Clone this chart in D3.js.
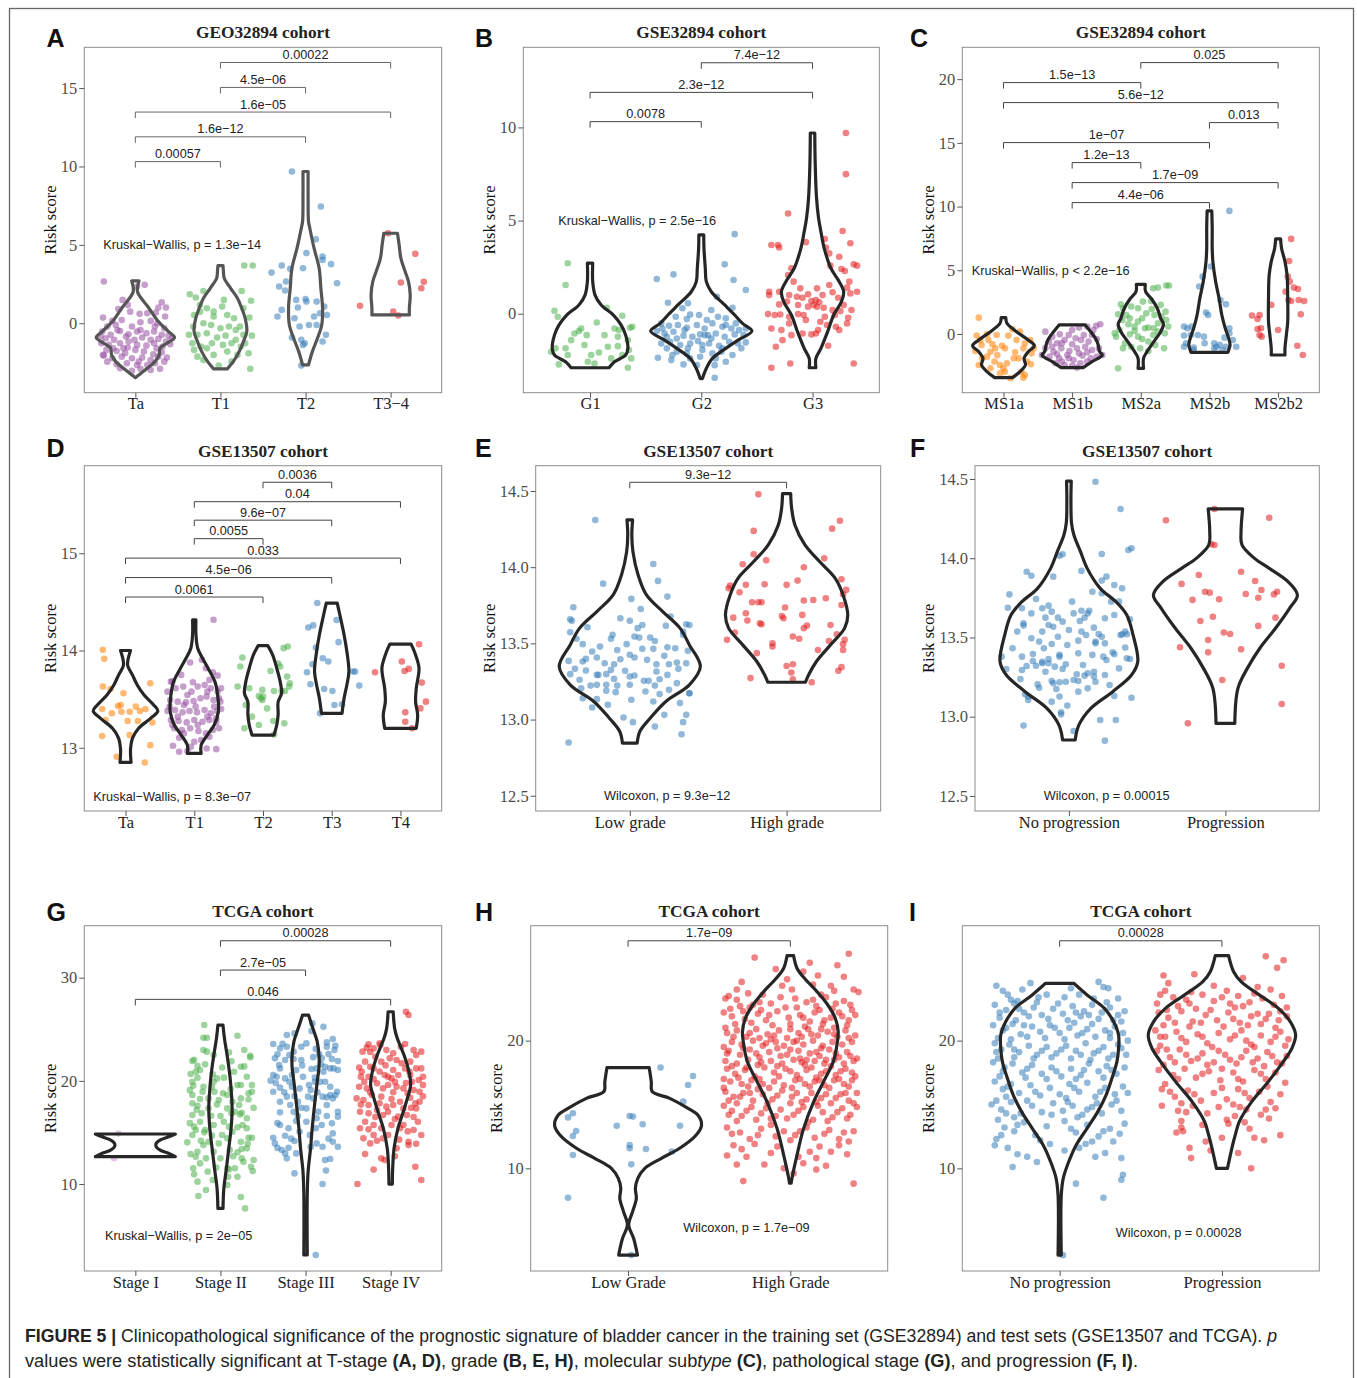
<!DOCTYPE html>
<html><head><meta charset="utf-8">
<script src="https://cdn.jsdelivr.net/npm/d3@7"></script>
<style>body{margin:0;background:#fff}svg{display:block}</style>
</head><body>
<script>
// Risk score by clinicopathological group, nine cohorts/panels.
// Points are [jitter offset in category units, risk score];
// violin profiles are [risk score, half width in category units].

// ---------- Panel A: GEO32894, T stage ----------
const catsA = ["Ta","T1","T2","T3−4"];
const ticksA = [0,5,10,15];
const ptsA_Ta = [[-0.37,2.66],[0.11,2.45],[0.02,2.34],[-0.15,1.49],[0.31,1.34],[0.36,1.0],[-0.09,1.17],[-0.2,0.91],[-0.06,0.74],[0.05,0.6],[0.14,0.64],[0.24,0.68],[0.27,1.0],[-0.38,0.36],[0.35,0.43],[-0.27,0.15],[-0.16,0.21],[0.06,0.06],[0.18,0.15],[0.26,0.0],[-0.33,-0.21],[-0.23,-0.11],[-0.04,-0.21],[0.06,-0.43],[0.23,-0.21],[0.34,-0.32],[-0.39,-0.53],[-0.29,-0.74],[-0.18,-0.49],[-0.08,-0.7],[0.02,-0.53],[0.13,-0.64],[0.22,-0.53],[0.31,-0.74],[0.39,-0.79],[-0.35,-0.96],[-0.25,-1.06],[-0.11,-0.85],[-0.01,-1.06],[0.08,-0.91],[0.18,-1.06],[0.27,-1.0],[0.36,-1.17],[-0.4,-1.28],[-0.31,-1.38],[-0.18,-1.28],[-0.09,-1.55],[0.02,-1.38],[0.13,-1.43],[0.22,-1.28],[0.32,-1.49],[0.41,-1.34],[-0.34,-1.7],[-0.22,-1.77],[-0.12,-1.91],[0.0,-1.7],[0.1,-1.81],[0.21,-1.98],[0.31,-1.85],[-0.37,-2.06],[-0.27,-2.23],[-0.16,-2.13],[-0.04,-2.23],[0.08,-2.19],[0.18,-2.34],[0.27,-2.13],[0.37,-2.19],[-0.33,-2.45],[-0.22,-2.62],[-0.1,-2.55],[0.02,-2.66],[0.14,-2.66],[0.23,-2.55],[-0.18,-2.87],[-0.04,-3.04],[0.06,-2.91],[0.18,-2.98],[0.29,-2.91],[-0.38,-2.02],[0.34,-2.45],[-0.08,-1.17],[-0.21,-0.43],[-0.41,-0.85],[0.43,-0.96],[0.25,-1.6],[-0.26,-1.6],[0.04,-2.45],[-0.14,-1.6]];
const ptsA_T1 = [[-0.36,1.85],[-0.29,1.64],[-0.2,2.06],[-0.31,0.53],[-0.24,0.74],[-0.16,0.96],[-0.08,0.74],[0.02,1.06],[0.08,0.53],[0.16,0.32],[0.25,2.06],[0.28,3.68],[0.38,3.68],[0.36,1.43],[0.34,0.36],[-0.32,-0.21],[-0.2,0.0],[-0.11,-0.11],[0.0,-0.32],[0.1,-0.21],[0.23,-0.21],[-0.27,-0.74],[-0.16,-0.64],[-0.04,-0.91],[0.06,-0.79],[0.18,-1.06],[0.27,-0.74],[0.37,-0.79],[-0.33,-1.28],[-0.23,-1.49],[-0.1,-1.28],[0.03,-1.38],[0.13,-1.28],[0.24,-1.49],[-0.31,-1.7],[-0.2,-2.34],[-0.08,-2.02],[0.08,-1.81],[0.2,-2.02],[0.33,-1.91],[-0.02,-2.7],[0.35,-2.91],[-0.16,-1.6],[0.18,-0.43],[-0.08,0.43],[-0.24,1.17],[0.04,1.49],[0.27,0.96],[-0.27,-2.13],[0.13,-2.45],[-0.37,-0.74],[0.29,-1.28]];
const ptsA_T2 = [[-0.16,9.68],[0.18,7.45],[0.12,5.36],[0.01,4.47],[0.2,4.26],[0.3,3.77],[0.2,4.04],[-0.4,3.23],[-0.28,3.68],[-0.18,3.47],[-0.03,3.51],[-0.23,2.66],[-0.31,2.34],[-0.24,2.09],[0.37,2.55],[-0.11,1.49],[0.0,1.55],[0.01,1.38],[0.13,1.38],[-0.28,0.85],[-0.33,0.43],[-0.09,1.0],[0.22,1.06],[0.25,0.53],[0.17,0.64],[-0.13,0.32],[-0.07,-0.21],[0.04,-0.11],[-0.16,-0.91],[-0.05,-1.06],[-0.01,-1.28],[0.24,-0.74],[0.2,-1.17],[-0.05,-2.7],[0.13,-0.11],[0.1,0.43],[-0.03,-1.38]];
const ptsA_T34 = [[-0.36,1.11],[-0.03,5.74],[0.29,4.43],[0.12,2.6],[0.39,2.64],[0.36,2.23],[0.03,0.74],[0.09,0.49]];
const vioA_Ta = [[2.7,0.043],[2.02,0.025],[1.38,0.1],[0.96,0.16],[0.11,0.27],[-0.53,0.39],[-0.91,0.46],[-1.28,0.37],[-1.6,0.29],[-2.02,0.28],[-2.45,0.23],[-2.87,0.14],[-3.3,0.04],[-3.47,0.0]];
const vioA_T1 = [[3.68,0.03],[3.3,0.035],[2.87,0.045],[2.23,0.12],[1.6,0.2],[0.96,0.25],[0.32,0.29],[-0.53,0.31],[-1.17,0.27],[-1.81,0.22],[-2.45,0.15],[-2.91,0.08]];
const vioA_T2 = [[9.68,0.03],[8.0,0.03],[6.49,0.035],[6.06,0.05],[4.79,0.1],[3.51,0.16],[2.23,0.18],[0.96,0.2],[-0.11,0.19],[-0.96,0.14],[-1.81,0.08],[-2.66,0.035]];
const vioA_T34 = [[5.74,0.08],[5.0,0.1],[4.15,0.12],[3.3,0.17],[2.66,0.21],[1.81,0.23],[0.96,0.22],[0.53,0.22]];
const bracketsA = [["Ta","T1",10.31,"0.00057"],["Ta","T2",11.89,"1.6e−12"],["Ta","T3−4",13.47,"1.6e−05"],["T1","T2",15.04,"4.5e−06"],["T1","T3−4",16.63,"0.00022"]];
const testA = "Kruskal−Wallis, p = 1.3e−14";

// ---------- Panel B: GSE32894, grade ----------
const catsB = ["G1","G2","G3"];
const ticksB = [0,5,10];
const ptsB_G1 = [[-0.2,2.71],[-0.22,1.54],[-0.32,0.16],[0.15,0.32],[-0.29,-0.16],[0.29,-0.11],[0.06,-0.47],[-0.08,-0.79],[-0.1,-0.93],[-0.03,-1.15],[0.22,-0.79],[0.26,-0.88],[0.36,-0.75],[0.38,-0.7],[-0.14,-1.06],[0.25,-1.24],[0.34,-1.42],[-0.22,-1.86],[-0.35,-2.04],[-0.2,-2.22],[0.01,-2.22],[0.08,-2.08],[0.16,-1.77],[0.25,-1.74],[0.37,-2.4],[-0.28,-2.72],[-0.02,-2.58],[0.04,-2.67],[0.34,-2.9],[-0.31,-1.86],[0.35,-1.95],[-0.05,-1.68],[0.13,-1.15],[0.29,-2.22],[-0.17,-1.42],[0.19,-2.4]];
const ptsB_G2 = [[0.3,4.27],[0.21,2.65],[-0.25,2.11],[-0.4,1.86],[0.29,1.81],[0.4,1.27],[0.14,0.91],[-0.3,0.59],[-0.12,0.56],[0.28,0.32],[-0.17,0.29],[0.09,0.2],[-0.02,-0.07],[-0.23,-0.16],[-0.1,-0.04],[0.15,-0.16],[0.22,-0.25],[-0.36,-0.52],[-0.29,-0.65],[-0.21,-0.61],[-0.13,-0.75],[0.03,-0.79],[0.1,-0.52],[0.19,-0.7],[0.27,-0.79],[0.34,-0.88],[0.4,-0.79],[-0.4,-0.93],[-0.33,-1.06],[-0.25,-0.97],[-0.16,-1.18],[-0.08,-1.24],[-0.01,-1.11],[0.06,-1.15],[0.13,-1.06],[0.21,-1.24],[0.3,-1.11],[0.38,-1.15],[-0.36,-1.6],[-0.28,-1.51],[-0.19,-1.68],[-0.1,-1.6],[-0.03,-1.47],[0.07,-1.6],[0.16,-1.72],[0.25,-1.51],[0.33,-1.6],[0.4,-1.54],[-0.31,-1.86],[-0.22,-2.04],[-0.12,-1.86],[0.01,-1.95],[0.1,-2.13],[0.18,-2.04],[0.28,-2.22],[-0.39,-2.37],[-0.27,-2.49],[-0.16,-2.72],[-0.01,-2.31],[0.12,-2.76],[0.22,-2.58],[0.12,-3.44],[-0.1,-2.4],[0.03,-1.15],[-0.22,-1.33],[-0.04,-0.61],[0.31,-0.52],[0.09,-1.33],[-0.13,-2.13],[0.19,-1.86],[-0.26,-2.22],[0.01,-1.68],[-0.31,-1.24],[-0.15,-0.88],[0.36,-1.86],[0.22,-0.61],[0.05,-0.34],[-0.13,-0.29],[-0.35,-0.79],[0.13,-2.4],[-0.04,-2.76]];
const ptsB_G3 = [[0.3,9.7],[0.3,7.49],[-0.22,5.38],[0.27,4.44],[0.34,3.78],[-0.37,3.69],[-0.31,3.69],[-0.3,3.55],[-0.06,3.84],[0.12,3.55],[0.15,3.24],[0.11,4.01],[0.37,2.65],[0.4,2.58],[0.26,2.4],[0.29,2.29],[-0.19,2.44],[0.16,2.58],[-0.17,1.72],[-0.11,1.36],[0.04,1.36],[0.15,1.54],[0.31,1.4],[0.4,1.18],[0.34,1.09],[-0.39,1.18],[-0.3,1.18],[-0.21,1.0],[-0.14,0.91],[-0.09,0.86],[-0.04,1.04],[0.09,1.0],[0.18,1.15],[0.23,0.86],[-0.39,1.0],[-0.3,0.5],[-0.23,0.65],[-0.01,0.68],[0.03,0.73],[0.06,0.61],[0.01,0.47],[-0.04,0.38],[0.04,0.38],[0.1,0.32],[0.18,0.2],[0.25,0.14],[0.28,0.47],[0.35,0.2],[-0.4,-0.02],[-0.34,-0.07],[-0.29,-0.04],[-0.21,-0.16],[-0.13,-0.02],[-0.08,-0.07],[0.11,-0.16],[0.2,-0.07],[0.32,-0.22],[-0.37,-0.79],[-0.28,-0.88],[-0.21,-0.52],[-0.09,-1.06],[-0.01,-1.11],[0.05,-0.88],[0.13,-0.61],[0.21,-0.7],[0.31,-0.52],[0.24,-0.88],[-0.27,-1.42],[-0.33,-1.77],[-0.19,-1.15],[0.03,-1.06],[0.14,-1.72],[-0.2,-2.67],[-0.37,-2.9],[0.37,-2.67],[-0.06,-0.34],[0.07,-0.43],[-0.13,0.47],[0.33,1.72],[0.24,3.06],[-0.22,2.08]];
const vioB_G1 = [[2.71,0.024],[1.72,0.024],[1.0,0.045],[0.47,0.1],[-0.07,0.21],[-0.61,0.28],[-1.15,0.32],[-1.86,0.34],[-2.22,0.32],[-2.58,0.22],[-2.9,0.17]];
const vioB_G2 = [[4.23,0.022],[3.51,0.024],[2.44,0.036],[1.72,0.045],[1.18,0.09],[0.47,0.21],[-0.07,0.3],[-0.52,0.37],[-0.93,0.455],[-1.42,0.33],[-1.86,0.22],[-2.4,0.1],[-2.94,0.045],[-3.48,0.01]];
const vioB_G3 = [[9.7,0.02],[8.0,0.024],[6.2,0.036],[5.13,0.054],[4.41,0.075],[3.51,0.105],[2.44,0.165],[1.72,0.24],[1.18,0.28],[0.65,0.26],[-0.07,0.19],[-0.97,0.135],[-1.86,0.075],[-2.4,0.03],[-2.9,0.03]];
const bracketsB = [["G1","G2",10.31,"0.0078"],["G1","G3",11.88,"2.3e−12"],["G2","G3",13.47,"7.4e−12"]];
const testB = "Kruskal−Wallis, p = 2.5e−16";

// ---------- Panel C: GSE32894, molecular subtype ----------
const catsC = ["MS1a","MS1b","MS2a","MS2b","MS2b2"];
const ticksC = [0,5,10,15,20];
const ptsC_1a = [[-0.36,1.28],[0.13,0.39],[-0.39,-0.13],[-0.24,-0.03],[0.07,-0.13],[0.19,-0.47],[0.31,-0.73],[0.39,-0.47],[-0.32,-0.86],[-0.16,-0.81],[-0.02,-0.92],[-0.19,-1.39],[-0.09,-1.65],[0.02,-1.13],[0.29,-1.13],[0.44,-1.13],[-0.31,-1.91],[-0.13,-2.17],[-0.05,-2.43],[0.0,-2.7],[0.05,-2.3],[0.22,-1.91],[0.34,-2.17],[0.4,-2.38],[-0.36,-2.43],[-0.19,-2.7],[0.26,-2.96],[0.31,-3.22],[0.29,-3.43],[0.02,-2.96],[0.15,-1.91],[-0.22,-0.47],[-0.34,-0.47],[0.24,0.18],[-0.1,-0.08],[0.17,-1.44],[-0.24,-1.78],[0.1,-3.48],[-0.05,-3.09],[-0.12,-1.13],[-0.41,-1.34],[0.41,-1.52]];
const ptsC_1b = [[-0.39,0.18],[-0.29,-0.21],[-0.18,-0.03],[-0.05,-0.08],[0.1,0.5],[0.22,0.58],[0.31,0.31],[0.35,0.65],[0.41,0.76],[-0.34,-0.6],[-0.22,-0.73],[-0.11,-0.47],[0.0,-0.81],[0.13,-0.47],[0.24,-0.6],[0.36,-0.39],[-0.39,-1.13],[-0.27,-1.39],[-0.16,-1.13],[-0.04,-1.34],[0.07,-1.13],[0.19,-1.0],[0.29,-1.26],[0.39,-1.13],[-0.33,-1.78],[-0.19,-1.91],[-0.07,-1.65],[0.02,-2.04],[0.15,-1.7],[0.27,-1.91],[0.36,-1.78],[-0.24,-2.3],[-0.11,-2.43],[0.0,-2.49],[0.12,-2.3],[0.22,-2.17],[0.07,-2.64],[-0.15,-2.17],[-0.44,-1.65],[-0.29,-1.0],[0.1,-1.52],[0.17,-0.08],[0.0,0.31],[0.29,-0.08],[-0.05,-1.91],[-0.22,-1.6],[0.22,-1.44],[0.44,-1.65],[-0.15,-0.73],[0.05,-0.34]];
const ptsC_2a = [[-0.33,-2.7],[-0.36,-0.21],[-0.38,0.05],[-0.29,2.33],[-0.26,2.02],[-0.14,2.15],[-0.21,1.49],[-0.33,1.54],[-0.27,1.1],[-0.18,0.76],[-0.09,0.58],[-0.04,0.97],[0.02,1.23],[0.08,1.62],[0.16,1.96],[0.03,2.54],[0.18,3.59],[0.25,3.64],[0.37,3.8],[0.41,3.8],[0.29,2.28],[0.36,1.75],[0.3,1.36],[0.37,1.1],[0.19,0.45],[0.11,0.5],[0.25,0.18],[0.35,0.05],[0.4,0.58],[-0.04,-0.21],[0.02,-0.39],[0.11,-0.6],[0.21,-0.86],[0.34,-1.13],[-0.23,-0.73],[-0.14,-1.0],[-0.01,-1.13],[0.11,-1.34],[-0.31,0.31],[-0.09,0.24],[0.06,0.45],[-0.16,-0.03],[0.18,-0.08],[-0.26,-1.13],[0.15,2.59],[-0.04,2.02],[0.25,0.84],[-0.16,1.23],[0.2,1.49]];
const ptsC_2b = [[0.29,9.66],[0.02,5.29],[-0.1,4.5],[-0.15,3.72],[0.16,2.67],[0.24,2.33],[-0.02,1.49],[-0.05,1.68],[-0.37,0.58],[-0.26,0.58],[-0.37,-0.13],[-0.27,-0.08],[-0.08,-0.21],[0.29,0.45],[0.22,-0.29],[-0.34,-0.73],[-0.37,-1.0],[-0.23,-1.07],[0.07,-0.73],[0.1,-1.0],[0.15,-0.86],[0.24,-1.0],[0.39,-1.0],[0.34,-0.47],[-0.23,-1.26],[0.19,-1.26],[0.07,-1.13],[-0.07,-0.73],[-0.17,-0.08],[-0.32,0.45],[0.29,0.05]];
const ptsC_2b2 = [[0.19,7.46],[0.16,5.73],[0.14,4.5],[0.17,4.11],[0.11,3.32],[0.23,3.64],[0.29,3.53],[0.15,2.67],[0.19,2.59],[0.3,2.67],[0.38,2.59],[0.33,1.54],[-0.38,1.44],[-0.27,1.49],[-0.3,1.18],[-0.1,2.28],[-0.3,0.39],[-0.27,-0.08],[-0.24,-0.21],[-0.25,0.45],[0.28,-0.92],[0.36,-1.65],[0.0,0.31]];
const vioC_1a = [[1.28,0.034],[0.84,0.05],[0.18,0.19],[-0.47,0.36],[-0.92,0.45],[-1.39,0.36],[-1.91,0.3],[-2.43,0.32],[-2.96,0.24],[-3.43,0.13]];
const vioC_1b = [[0.71,0.19],[0.18,0.27],[-0.34,0.34],[-0.86,0.38],[-1.39,0.4],[-1.65,0.44],[-2.17,0.29],[-2.64,0.16]];
const vioC_2a = [[3.9,0.065],[3.32,0.07],[2.8,0.15],[2.02,0.24],[1.23,0.29],[0.76,0.33],[0.18,0.29],[-0.6,0.19],[-1.39,0.09],[-1.91,0.04],[-2.7,0.04]];
const vioC_2b = [[9.66,0.034],[8.3,0.04],[6.73,0.04],[5.68,0.05],[4.11,0.09],[2.8,0.14],[1.49,0.18],[0.45,0.23],[-0.34,0.28],[-0.86,0.3],[-1.26,0.28],[-1.44,0.27]];
const vioC_2b2 = [[7.46,0.036],[6.73,0.05],[5.68,0.1],[4.63,0.13],[2.8,0.14],[0.97,0.14],[-0.08,0.12],[-1.13,0.1],[-1.65,0.1]];
const bracketsC = [["MS1b","MS2b",10.31,"4.4e−06"],["MS1b","MS2b2",11.88,"1.7e−09"],["MS1b","MS2a",13.45,"1.2e−13"],["MS1a","MS2b",15.02,"1e−07"],["MS2b","MS2b2",16.59,"0.013"],["MS1a","MS2b2",18.16,"5.6e−12"],["MS1a","MS2a",19.73,"1.5e−13"],["MS2a","MS2b2",21.3,"0.025"]];
const testC = "Kruskal−Wallis, p < 2.2e−16";

// ---------- Panel D: GSE13507, T stage ----------
const catsD = ["Ta","T1","T2","T3","T4"];
const ticksD = [13,14,15];
const ptsD_Ta = [[-0.33,14.007],[-0.31,13.914],[-0.33,13.629],[-0.22,13.605],[-0.03,13.56],[0.36,13.663],[-0.34,13.399],[-0.2,13.354],[-0.11,13.43],[-0.06,13.371],[0.03,13.275],[0.06,13.371],[0.15,13.423],[0.21,13.378],[0.29,13.399],[0.39,13.261],[-0.29,13.285],[-0.34,13.12],[0.06,13.131],[0.36,13.027],[-0.13,12.907],[0.28,12.849],[-0.07,13.44],[0.18,13.275]];
const ptsD_T1 = [[0.28,14.316],[0.11,13.904],[-0.06,13.876],[-0.32,13.68],[-0.19,13.749],[0.27,13.777],[0.22,13.698],[0.34,13.742],[-0.39,13.577],[-0.27,13.612],[-0.16,13.629],[-0.04,13.577],[0.05,13.629],[0.15,13.646],[0.24,13.612],[0.34,13.577],[0.39,13.612],[-0.35,13.491],[-0.24,13.474],[-0.12,13.467],[-0.01,13.481],[0.09,13.509],[0.18,13.526],[0.28,13.491],[0.36,13.509],[-0.39,13.378],[-0.28,13.388],[-0.17,13.364],[-0.07,13.378],[0.04,13.364],[0.15,13.388],[0.24,13.354],[0.33,13.378],[0.39,13.399],[-0.34,13.285],[-0.23,13.275],[-0.11,13.261],[0.0,13.285],[0.12,13.268],[0.22,13.285],[0.32,13.261],[0.36,13.2],[-0.29,13.2],[-0.18,13.182],[-0.06,13.2],[0.06,13.172],[0.17,13.148],[0.27,13.182],[-0.31,13.021],[-0.1,12.966],[-0.05,13.01],[0.18,12.993],[0.32,12.986],[-0.22,13.103],[0.1,13.079],[0.22,13.113],[-0.36,13.423],[-0.02,13.674],[0.17,13.818],[-0.15,13.44],[0.29,13.423],[0.02,13.423],[-0.24,13.32],[0.19,13.32],[-0.1,13.543],[0.19,13.577],[-0.32,13.234],[0.32,13.302],[0.05,13.234],[-0.15,13.148],[0.0,13.062],[0.38,13.474],[-0.34,13.68],[-0.22,12.959]];
const ptsD_T2 = [[-0.3,13.928],[-0.33,13.835],[-0.2,13.612],[-0.01,13.595],[0.11,13.79],[0.22,13.866],[0.25,13.835],[0.36,14.041],[0.3,14.024],[0.35,13.732],[0.39,13.663],[0.27,13.584],[0.32,13.584],[0.16,13.584],[-0.03,13.509],[-0.01,13.491],[0.0,13.526],[-0.06,13.533],[-0.37,13.629],[-0.16,13.32],[0.06,13.405],[0.15,13.275],[0.31,13.251],[-0.27,13.2],[-0.06,13.234],[0.16,13.137],[0.38,13.629],[-0.25,13.44]];
const ptsD_T3 = [[-0.21,14.488],[-0.34,14.237],[-0.27,14.258],[0.07,14.313],[0.1,14.086],[-0.23,14.031],[-0.13,13.921],[-0.28,13.859],[-0.05,13.887],[-0.36,13.777],[0.31,13.784],[0.34,13.784],[-0.31,13.653],[-0.11,13.605],[0.01,13.584],[0.4,13.639],[0.04,13.44],[-0.17,13.354],[0.15,13.447]];
const ptsD_T4 = [[0.27,14.065],[-0.37,13.777],[0.02,13.887],[0.06,13.79],[0.12,13.811],[0.31,13.67],[0.29,13.405],[0.07,13.364],[0.07,13.268],[0.37,13.474],[0.17,13.2]];
const vioD_Ta = [[14.0,0.073],[13.85,0.03],[13.75,0.1],[13.646,0.17],[13.543,0.27],[13.44,0.41],[13.378,0.47],[13.3,0.36],[13.2,0.19],[13.096,0.1],[12.99,0.073],[12.849,0.08]];
const vioD_T1 = [[14.316,0.024],[14.16,0.025],[14.024,0.05],[13.92,0.12],[13.818,0.2],[13.68,0.3],[13.543,0.34],[13.371,0.35],[13.234,0.29],[13.131,0.19],[13.027,0.1],[12.942,0.1]];
const vioD_T2 = [[14.05,0.07],[13.955,0.14],[13.818,0.2],[13.68,0.25],[13.56,0.27],[13.47,0.22],[13.34,0.22],[13.234,0.2],[13.131,0.16]];
const vioD_T3 = [[14.488,0.08],[14.36,0.12],[14.16,0.18],[13.99,0.22],[13.784,0.25],[13.646,0.22],[13.509,0.18],[13.354,0.15]];
const vioD_T4 = [[14.065,0.155],[13.955,0.22],[13.818,0.27],[13.612,0.23],[13.474,0.22],[13.337,0.25],[13.2,0.23]];
const bracketsD = [["Ta","T2",14.55,"0.0061"],["Ta","T3",14.75,"4.5e−06"],["Ta","T4",14.95,"0.033"],["T1","T2",15.15,"0.0055"],["T1","T3",15.34,"9.6e−07"],["T1","T4",15.53,"0.04"],["T2","T3",15.73,"0.0036"]];
const testD = "Kruskal−Wallis, p = 8.3e−07";

// ---------- Panel E: GSE13507, grade ----------
const catsE = ["Low grade","High grade"];
const ticksE = [12.5,13.0,13.5,14.0,14.5];
const ptsE_Low = [[-0.22,14.31],[0.15,14.021],[-0.17,13.892],[0.18,13.91],[0.24,13.807],[0.01,13.792],[-0.36,13.737],[0.07,13.726],[-0.38,13.658],[-0.37,13.648],[-0.27,13.606],[0.0,13.648],[0.08,13.621],[0.05,13.6],[0.23,13.615],[0.36,13.626],[0.38,13.621],[-0.38,13.573],[-0.34,13.53],[-0.3,13.495],[-0.19,13.479],[-0.11,13.556],[-0.12,13.53],[0.03,13.545],[0.06,13.538],[0.13,13.538],[0.16,13.516],[0.24,13.475],[0.34,13.578],[0.34,13.556],[-0.02,13.495],[0.08,13.464],[0.15,13.464],[0.22,13.418],[0.37,13.451],[-0.39,13.385],[-0.3,13.381],[-0.28,13.398],[-0.21,13.407],[-0.16,13.37],[-0.1,13.363],[-0.06,13.396],[0.0,13.425],[0.03,13.407],[0.11,13.392],[0.17,13.363],[0.25,13.363],[0.3,13.374],[0.36,13.37],[-0.35,13.333],[-0.28,13.322],[-0.38,13.298],[-0.21,13.293],[-0.15,13.298],[-0.1,13.267],[-0.03,13.32],[0.0,13.283],[0.03,13.289],[0.09,13.254],[0.12,13.254],[0.19,13.265],[0.31,13.333],[0.3,13.239],[-0.25,13.223],[-0.21,13.228],[-0.15,13.228],[-0.08,13.223],[0.0,13.228],[0.16,13.223],[0.25,13.195],[0.38,13.173],[-0.3,13.14],[-0.21,13.134],[-0.15,13.189],[-0.09,13.18],[0.01,13.13],[0.15,13.119],[0.19,13.167],[0.32,13.108],[0.38,13.173],[-0.24,13.079],[-0.04,13.014],[0.02,12.983],[0.16,12.954],[0.34,12.983],[0.36,13.031],[0.33,12.904],[-0.39,12.85],[-0.2,13.293],[-0.32,13.261],[-0.12,13.326],[0.17,13.315],[0.24,13.293],[0.29,13.468],[-0.08,13.457],[-0.24,13.446],[0.26,13.676],[-0.06,13.665],[-0.31,13.206],[0.1,13.184],[-0.14,13.097],[0.22,13.031]];
const ptsE_High = [[-0.18,14.478],[0.34,14.305],[-0.21,14.238],[0.29,14.253],[-0.21,14.085],[-0.13,14.045],[0.24,14.058],[-0.28,14.019],[0.11,14.0],[0.35,13.921],[0.38,13.851],[-0.37,13.862],[-0.36,13.879],[-0.3,13.836],[-0.26,13.884],[-0.14,13.888],[0.0,13.884],[0.07,13.912],[0.36,13.822],[0.25,13.796],[0.17,13.785],[0.11,13.781],[-0.22,13.77],[-0.18,13.77],[-0.16,13.77],[-0.01,13.735],[0.35,13.752],[-0.26,13.698],[-0.34,13.669],[-0.03,13.68],[-0.02,13.665],[0.1,13.687],[-0.25,13.65],[-0.17,13.632],[-0.16,13.626],[0.28,13.621],[0.13,13.617],[0.11,13.6],[-0.33,13.571],[-0.38,13.523],[0.04,13.545],[0.08,13.53],[0.32,13.56],[0.27,13.516],[0.2,13.457],[-0.09,13.501],[-0.09,13.479],[-0.19,13.436],[0.36,13.457],[0.0,13.352],[0.04,13.363],[0.03,13.309],[0.35,13.344],[0.33,13.32],[-0.23,13.272],[0.04,13.265],[0.16,13.245],[0.36,13.495],[0.37,13.523]];
const vioE_Low = [[14.31,0.018],[14.211,0.013],[14.102,0.02],[13.949,0.053],[13.818,0.106],[13.709,0.21],[13.6,0.32],[13.49,0.38],[13.348,0.45],[13.228,0.38],[13.119,0.23],[13.009,0.13],[12.922,0.064],[12.845,0.047]];
const vioE_High = [[14.483,0.026],[14.386,0.032],[14.277,0.053],[14.146,0.117],[14.037,0.21],[13.927,0.31],[13.818,0.36],[13.687,0.39],[13.6,0.37],[13.49,0.28],[13.381,0.19],[13.293,0.14],[13.245,0.12]];
const bracketsE = [["Low grade","High grade",14.557,"9.3e−12"]];
const testE = "Wilcoxon, p = 9.3e−12";

// ---------- Panel F: GSE13507, progression ----------
const catsF = ["No progression","Progression"];
const ticksF = [12.5,13.0,13.5,14.0,14.5];
const ptsF_No = [[0.17,14.483],[0.33,14.311],[0.38,14.052],[0.4,14.063],[-0.27,13.915],[-0.24,13.89],[-0.06,14.016],[-0.04,14.025],[-0.1,13.884],[0.21,14.027],[0.08,13.92],[0.24,13.884],[0.29,13.831],[0.34,13.81],[0.21,13.859],[0.21,13.779],[-0.38,13.772],[-0.39,13.688],[0.27,13.726],[-0.21,13.743],[-0.17,13.684],[-0.13,13.701],[-0.11,13.663],[-0.24,13.652],[-0.33,13.537],[-0.29,13.589],[-0.29,13.575],[-0.15,13.625],[-0.13,13.579],[-0.07,13.625],[0.03,13.652],[0.08,13.669],[0.12,13.652],[0.07,13.604],[0.1,13.625],[0.13,13.669],[0.23,13.621],[0.29,13.642],[0.34,13.52],[0.39,13.615],[0.36,13.537],[-0.17,13.537],[-0.11,13.459],[-0.07,13.505],[0.08,13.537],[0.06,13.48],[0.11,13.516],[0.16,13.562],[0.19,13.522],[0.17,13.474],[0.21,13.505],[0.23,13.463],[0.33,13.516],[0.37,13.52],[-0.43,13.379],[-0.3,13.379],[-0.23,13.396],[-0.23,13.352],[-0.17,13.347],[-0.13,13.364],[-0.13,13.337],[-0.06,13.39],[-0.06,13.379],[-0.01,13.453],[0.06,13.4],[0.17,13.463],[0.22,13.379],[0.24,13.358],[0.28,13.406],[0.29,13.394],[0.36,13.436],[0.37,13.369],[0.39,13.364],[-0.4,13.301],[-0.3,13.295],[-0.27,13.32],[-0.21,13.322],[-0.17,13.337],[-0.15,13.284],[-0.09,13.316],[-0.04,13.301],[-0.02,13.331],[0.05,13.268],[0.1,13.259],[0.12,13.274],[0.16,13.284],[0.16,13.253],[-0.11,13.225],[-0.1,13.211],[-0.08,13.175],[-0.06,13.217],[-0.02,13.221],[0.03,13.232],[0.06,13.225],[0.12,13.179],[0.17,13.221],[-0.31,13.238],[-0.28,13.141],[-0.26,13.127],[-0.26,13.106],[-0.19,13.183],[-0.06,13.127],[-0.11,13.095],[0.29,13.131],[0.4,13.12],[-0.05,13.028],[-0.05,13.015],[-0.29,12.944],[0.2,12.979],[0.3,12.979],[0.23,12.849],[0.03,12.91],[-0.01,13.07],[-0.2,13.204],[-0.16,13.432],[0.32,13.726],[0.02,13.726],[-0.3,13.684],[-0.04,13.6],[0.15,13.39],[0.32,13.305],[-0.36,13.432],[0.23,13.263],[0.06,13.158],[-0.19,13.474],[-0.1,13.568],[0.09,13.326],[0.26,13.2],[-0.24,13.495],[0.15,13.789],[0.0,13.547]];
const ptsF_Prog = [[-0.38,14.239],[-0.07,14.311],[0.28,14.256],[-0.09,14.088],[-0.17,13.894],[0.1,13.915],[-0.28,13.838],[0.19,13.856],[0.23,13.8],[-0.21,13.737],[-0.13,13.789],[-0.1,13.783],[-0.04,13.741],[0.13,13.774],[0.21,13.751],[0.31,13.772],[0.33,13.789],[-0.08,13.631],[-0.16,13.604],[0.32,13.625],[0.21,13.573],[-0.01,13.531],[0.03,13.522],[-0.11,13.484],[-0.29,13.438],[-0.11,13.406],[0.1,13.425],[0.36,13.322],[-0.02,13.232],[0.36,13.08],[-0.24,12.958],[-0.07,14.084]];
const vioF_No = [[14.487,0.015],[14.357,0.013],[14.22,0.017],[14.147,0.032],[14.042,0.074],[13.936,0.117],[13.81,0.2],[13.726,0.3],[13.642,0.37],[13.516,0.41],[13.347,0.44],[13.263,0.4],[13.158,0.28],[13.053,0.14],[12.948,0.064],[12.853,0.04]];
const vioF_Prog = [[14.311,0.11],[14.168,0.1],[14.084,0.106],[13.999,0.186],[13.936,0.28],[13.852,0.4],[13.768,0.46],[13.684,0.41],[13.558,0.32],[13.432,0.22],[13.305,0.14],[13.179,0.08],[12.958,0.06]];
const bracketsF = [];
const testF = "Wilcoxon, p = 0.00015";

// ---------- Panel G: TCGA, pathological stage ----------
const catsG = ["Stage I","Stage II","Stage III","Stage IV"];
const ticksG = [10,20,30];
const ptsG_I = [[-0.2,14.9],[-0.25,12.5]];
const ptsG_II = [[-0.19,25.41],[0.2,24.38],[-0.2,24.18],[-0.16,24.18],[-0.2,22.99],[-0.16,22.83],[0.1,22.76],[0.28,22.99],[0.35,22.28],[0.35,22.44],[-0.33,21.92],[-0.31,22.05],[-0.27,21.47],[-0.24,21.05],[-0.35,20.66],[-0.27,20.31],[-0.09,20.63],[0.04,20.31],[0.2,19.6],[0.24,19.6],[0.37,18.95],[0.33,18.79],[-0.32,19.53],[-0.2,19.43],[-0.07,18.95],[0.03,18.79],[-0.02,18.14],[-0.33,18.63],[-0.24,18.24],[-0.14,18.3],[-0.33,17.82],[-0.04,17.72],[0.08,17.33],[0.13,16.85],[0.17,17.01],[0.23,16.75],[0.39,17.4],[-0.27,17.59],[-0.22,16.85],[-0.11,16.62],[0.04,16.04],[0.1,15.56],[0.26,15.72],[0.33,14.49],[0.37,14.49],[0.31,15.4],[-0.39,14.04],[-0.31,15.56],[-0.29,15.23],[-0.18,15.23],[-0.19,15.01],[-0.14,14.1],[-0.02,13.94],[0.08,14.43],[0.11,13.3],[0.2,13.07],[0.25,13.39],[-0.27,13.13],[-0.17,12.49],[-0.29,12.65],[0.25,12.49],[0.27,12.16],[0.36,11.68],[0.38,11.26],[0.08,11.52],[0.1,11.42],[0.17,11.52],[-0.32,11.52],[-0.31,10.94],[-0.15,11.2],[-0.09,10.39],[0.09,10.71],[0.2,10.71],[-0.17,9.42],[-0.26,8.84],[0.24,8.74],[0.29,7.64],[-0.08,19.92],[-0.33,16.69],[0.24,18.3],[0.16,20.89],[0.31,20.4],[-0.08,22.5],[-0.21,18.95],[0.22,17.66],[-0.08,15.72],[0.14,15.07],[-0.33,14.75],[-0.2,13.78],[0.31,13.46],[0.0,12.49],[-0.24,12.0],[-0.04,20.24],[0.24,21.37],[-0.33,19.92],[0.37,19.6],[0.08,18.63],[-0.14,17.33],[0.14,17.98],[0.31,16.37],[-0.24,16.04],[0.02,14.75],[0.24,14.1],[-0.08,13.13],[0.39,12.33],[-0.27,10.23],[0.08,9.9],[-0.29,20.9],[-0.18,21.6],[0.02,21.3],[0.13,21.9],[0.28,21.4],[-0.36,19.1],[-0.1,19.4],[0.12,19.2],[0.33,18.2],[-0.28,17.2],[0.0,16.6],[0.25,16.9],[-0.36,15.9],[0.2,15.5],[-0.1,14.7],[0.32,13.9],[-0.23,14.2],[0.15,12.7],[-0.35,12.9],[-0.05,11.6]];
const ptsG_III = [[0.08,25.57],[0.21,25.25],[0.07,24.83],[-0.22,24.44],[-0.13,24.6],[0.32,24.06],[0.25,23.73],[-0.38,23.57],[-0.3,23.15],[-0.22,23.31],[0.34,22.99],[0.25,23.31],[0.16,22.57],[-0.33,22.57],[-0.24,22.02],[-0.14,22.12],[-0.05,22.02],[0.19,22.18],[0.31,22.12],[0.38,21.92],[0.38,21.05],[0.13,21.21],[0.23,21.37],[0.29,21.21],[0.07,21.15],[-0.11,21.05],[-0.38,20.57],[-0.34,20.4],[-0.24,20.24],[-0.19,19.92],[-0.41,20.02],[-0.3,19.34],[-0.16,19.43],[-0.07,19.27],[0.06,19.11],[0.11,20.31],[0.23,19.92],[0.29,19.43],[0.37,18.95],[-0.22,18.47],[-0.13,18.53],[0.03,18.47],[0.2,18.47],[0.25,18.4],[0.32,18.3],[-0.05,17.4],[0.01,17.33],[-0.14,17.01],[-0.3,16.95],[0.15,17.01],[0.38,17.01],[0.38,16.53],[-0.11,16.11],[0.01,16.04],[0.19,15.72],[0.31,15.88],[-0.2,15.4],[-0.38,14.49],[-0.36,13.94],[-0.24,14.68],[-0.2,13.52],[-0.24,12.97],[-0.11,12.97],[0.2,13.62],[0.32,14.1],[0.38,13.62],[0.29,12.42],[0.23,12.33],[-0.13,14.17],[0.05,14.75],[-0.28,13.3],[-0.13,11.03],[0.2,10.0],[0.12,3.12],[0.11,19.92],[-0.03,20.4],[-0.31,21.53],[-0.38,18.95],[-0.3,17.98],[-0.18,17.66],[0.25,17.66],[0.13,16.37],[0.32,14.91],[-0.3,15.72],[-0.07,15.07],[0.13,13.94],[-0.22,12.49],[0.33,21.21],[0.21,20.89],[-0.14,22.83],[0.01,23.63],[-0.09,17.98],[0.09,18.3],[-0.16,20.56],[-0.36,22.18],[0.29,18.63],[-0.27,23.6],[0.12,23.1],[-0.05,23.3],[0.35,23.4],[-0.19,22.5],[0.09,22.3],[0.27,22.6],[-0.3,21.2],[-0.04,21.5],[0.18,21.6],[-0.35,19.8],[0.04,19.6],[0.17,19.9],[-0.25,18.9],[0.14,18.9],[0.35,18.6],[-0.09,16.6],[0.25,16.6],[-0.33,15.9],[0.12,15.4],[-0.17,14.4],[0.27,14.4],[0.06,13.6],[-0.33,13.5],[0.24,11.3]];
const ptsG_IV = [[0.18,26.7],[0.21,26.38],[0.17,23.57],[-0.13,23.63],[-0.12,23.47],[-0.26,23.54],[-0.28,23.22],[-0.05,22.99],[0.27,22.99],[0.36,22.83],[-0.33,22.83],[0.03,22.67],[-0.18,22.34],[-0.3,21.86],[-0.11,21.86],[0.07,22.02],[-0.24,21.37],[0.17,21.21],[0.3,21.21],[0.36,21.21],[-0.35,20.4],[-0.26,20.4],[-0.2,20.18],[-0.07,20.57],[-0.03,20.4],[0.01,20.24],[0.23,20.57],[0.38,20.4],[0.33,20.08],[-0.37,19.43],[-0.28,19.27],[-0.16,19.76],[-0.03,19.6],[0.07,19.43],[0.15,19.27],[0.27,19.11],[0.34,18.95],[-0.4,18.3],[-0.32,18.14],[-0.22,18.63],[-0.11,18.47],[0.01,18.24],[0.11,17.98],[0.23,18.37],[0.29,17.82],[0.34,17.98],[-0.36,17.01],[-0.26,16.85],[-0.16,17.17],[-0.03,17.01],[0.09,16.53],[0.19,16.69],[0.3,17.33],[-0.3,16.04],[-0.2,15.72],[-0.11,15.4],[0.01,15.72],[0.15,15.72],[0.27,15.23],[0.36,14.75],[-0.32,14.43],[-0.24,13.94],[-0.09,14.43],[0.21,14.1],[-0.03,14.75],[-0.07,12.33],[-0.11,12.49],[0.21,13.78],[0.29,11.68],[0.36,10.39],[-0.39,10.0],[-0.2,21.21],[0.03,21.05],[0.09,20.57],[-0.13,17.82],[-0.26,17.66],[0.15,17.33],[0.03,17.66],[-0.2,14.75],[0.07,13.46],[-0.34,20.89],[0.25,19.92],[-0.09,19.27],[0.32,16.04],[-0.36,15.4],[-0.09,16.69],[0.11,15.4],[0.23,21.86],[-0.2,23.15],[-0.01,22.18],[-0.24,22.8],[0.12,23.3],[0.3,22.5],[-0.06,21.5],[0.13,21.7],[-0.37,21.3],[0.22,20.9],[-0.13,20.9],[-0.31,19.9],[0.05,19.9],[0.18,19.8],[0.38,19.6],[-0.24,18.9],[0.03,18.9],[0.2,18.8],[0.38,18.5],[-0.35,17.7],[-0.05,17.5],[0.24,17.4],[-0.18,16.5],[0.05,16.3],[0.27,16.5],[-0.26,15.3],[0.2,15.1],[-0.16,14.2],[0.1,14.3],[0.3,13.9],[-0.3,12.9],[0.05,12.7],[-0.2,11.4]];
const vioG_I = [[14.85,0.47],[14.6,0.4],[14.3,0.3],[14.0,0.25],[13.78,0.24],[13.55,0.25],[13.25,0.3],[12.95,0.4],[12.65,0.47]];
const vioG_II = [[25.41,0.03],[24.12,0.047],[22.5,0.078],[20.56,0.11],[18.63,0.13],[17.33,0.137],[15.4,0.125],[13.46,0.098],[11.52,0.07],[9.58,0.04],[7.64,0.03]];
const vioG_III = [[26.38,0.035],[25.09,0.086],[23.8,0.137],[22.18,0.16],[21.21,0.157],[19.92,0.137],[17.98,0.11],[15.4,0.078],[13.46,0.059],[11.2,0.03],[8.93,0.02],[3.12,0.02]];
const vioG_IV = [[26.7,0.03],[25.09,0.047],[24.12,0.078],[22.5,0.157],[20.89,0.215],[19.6,0.235],[18.3,0.196],[17.01,0.149],[15.4,0.086],[13.46,0.04],[11.52,0.024],[10.0,0.02]];
const bracketsG = [["Stage I","Stage IV",27.9,"0.046"],["Stage II","Stage III",30.74,"2.7e−05"],["Stage II","Stage IV",33.58,"0.00028"]];
const testG = "Kruskal−Wallis, p = 2e−05";

// ---------- Panel H: TCGA, grade ----------
const catsH = ["Low Grade","High Grade"];
const ticksH = [10,20];
const ptsH_Low = [[0.2,17.89],[0.4,17.23],[0.37,16.53],[0.34,15.22],[-0.37,13.99],[-0.34,14.31],[0.01,14.1],[0.03,14.05],[-0.07,13.34],[0.09,13.45],[0.32,13.34],[-0.32,12.92],[-0.34,12.53],[0.01,11.83],[0.01,11.57],[0.11,11.51],[0.27,11.31],[-0.34,11.04],[0.02,10.31],[-0.37,7.7],[0.02,3.21]];
const ptsH_High = [[-0.22,26.5],[0.36,26.8],[0.12,26.1],[-0.3,24.6],[0.29,25.9],[0.25,24.3],[0.42,23.8],[-0.02,24.8],[0.08,25.4],[-0.05,24.3],[0.17,25.1],[0.39,24.0],[-0.38,23.5],[-0.4,23.3],[-0.33,23.2],[-0.26,23.7],[-0.19,23.0],[-0.12,22.9],[-0.06,23.4],[0.03,23.3],[0.1,23.0],[0.16,22.7],[0.22,23.4],[0.28,22.9],[0.33,23.1],[0.37,22.8],[-0.31,22.7],[-0.25,22.6],[0.19,23.6],[0.04,22.6],[-0.41,22.2],[-0.36,21.9],[-0.29,22.3],[-0.2,22.1],[-0.15,21.6],[-0.08,22.3],[-0.01,21.8],[0.06,22.0],[0.12,21.5],[0.18,22.4],[0.25,21.8],[0.3,22.2],[0.36,21.6],[0.4,22.0],[-0.34,21.3],[-0.24,21.4],[-0.11,21.2],[0.0,21.3],[0.09,21.1],[0.2,21.3],[0.27,21.0],[0.35,21.2],[-0.4,21.0],[0.15,22.2],[-0.18,22.4],[-0.39,20.6],[-0.33,20.8],[-0.27,20.3],[-0.21,20.9],[-0.14,20.5],[-0.07,20.8],[-0.02,20.2],[0.05,20.6],[0.11,20.9],[0.17,20.4],[0.23,20.7],[0.29,20.3],[0.34,20.8],[0.4,20.4],[-0.36,19.9],[-0.3,19.7],[-0.23,20.0],[-0.17,19.6],[-0.09,19.9],[-0.04,19.6],[0.02,19.9],[0.08,19.7],[0.14,20.0],[0.2,19.6],[0.26,19.9],[0.32,19.7],[0.38,19.9],[-0.41,19.5],[0.07,20.3],[-0.12,20.1],[-0.38,19.2],[-0.31,18.9],[-0.25,19.3],[-0.19,18.7],[-0.13,19.1],[-0.06,18.8],[0.0,19.3],[0.06,18.6],[0.12,19.0],[0.18,18.8],[0.24,19.3],[0.3,18.7],[0.35,19.1],[0.41,18.6],[-0.4,18.4],[-0.33,18.2],[-0.26,18.5],[-0.2,18.1],[-0.12,18.4],[-0.05,18.2],[0.02,18.5],[0.09,18.1],[0.15,18.4],[0.21,18.2],[0.27,18.5],[0.33,18.2],[0.39,18.4],[-0.08,19.4],[0.19,19.4],[-0.39,17.8],[-0.34,17.4],[-0.28,17.7],[-0.22,17.2],[-0.16,17.9],[-0.1,17.5],[-0.03,17.8],[0.04,17.3],[0.1,17.7],[0.16,17.1],[0.22,17.6],[0.28,17.3],[0.34,17.8],[0.4,17.2],[-0.37,16.8],[-0.3,16.6],[-0.24,16.9],[-0.17,16.6],[-0.1,16.8],[-0.04,16.5],[0.03,16.9],[0.09,16.6],[0.15,16.8],[0.21,16.5],[0.27,16.9],[0.33,16.6],[0.38,16.9],[-0.41,16.3],[-0.4,16.0],[-0.35,15.6],[-0.29,15.9],[-0.23,15.3],[-0.17,15.8],[-0.11,15.4],[-0.05,16.1],[0.01,15.6],[0.07,15.2],[0.13,15.9],[0.19,15.5],[0.25,15.1],[0.31,15.8],[0.36,15.3],[0.41,15.9],[-0.33,15.1],[0.0,15.1],[-0.2,16.2],[-0.41,14.9],[-0.36,14.5],[-0.3,14.1],[-0.24,14.8],[-0.18,14.3],[-0.12,13.9],[-0.06,14.6],[0.02,14.2],[0.08,14.8],[0.14,13.8],[0.2,14.4],[0.26,14.0],[0.32,14.7],[0.37,14.2],[0.41,14.8],[-0.33,13.7],[0.11,13.6],[-0.02,13.9],[-0.39,13.2],[-0.31,12.8],[-0.25,12.3],[-0.18,13.1],[-0.09,12.5],[0.0,12.2],[0.06,12.9],[0.15,12.4],[0.24,13.0],[0.3,12.3],[0.36,12.1],[-0.35,11.8],[-0.22,11.9],[0.18,11.7],[-0.04,12.9],[0.33,12.8],[-0.39,11.0],[-0.27,10.9],[-0.12,11.2],[-0.04,10.0],[0.08,10.4],[0.16,10.8],[0.25,11.3],[0.35,11.1],[-0.29,9.0],[0.39,8.8],[0.02,9.6],[-0.16,10.3],[0.16,9.9],[-0.37,22.5],[-0.28,21.7],[-0.23,22.8],[-0.13,22.0],[-0.03,22.6],[0.08,21.8],[0.14,23.2],[0.21,21.6],[0.26,22.5],[0.32,21.9],[0.38,22.4],[-0.35,20.3],[-0.25,20.6],[-0.19,20.2],[-0.1,20.4],[0.0,20.9],[0.04,20.0],[0.13,20.5],[0.19,20.9],[0.27,20.5],[0.36,20.2],[-0.39,19.0],[-0.29,19.4],[-0.21,19.0],[-0.15,19.8],[-0.02,18.9],[0.05,19.2],[0.1,18.5],[0.16,19.1],[0.22,18.5],[0.28,19.0],[0.37,18.8],[-0.36,18.0],[-0.27,17.9],[-0.18,18.3],[-0.08,18.0],[0.0,17.6],[0.07,18.3],[0.13,17.9],[0.19,17.4],[0.25,18.0],[0.31,17.6],[0.38,17.5],[-0.41,17.0],[-0.32,17.1],[-0.26,16.4],[-0.19,17.0],[-0.13,16.3],[-0.07,17.2],[0.01,16.3],[0.06,17.0],[0.12,16.4],[0.18,16.9],[0.24,16.3],[0.3,17.0],[0.36,16.4],[-0.38,15.3],[-0.31,15.6],[-0.25,15.9],[-0.14,15.1],[-0.08,15.7],[0.04,15.9],[0.1,15.4],[0.16,15.2],[0.22,15.8],[0.28,15.5],[0.34,15.9],[0.39,15.1],[-0.38,14.2],[-0.27,14.5],[-0.21,13.8],[-0.15,14.7],[-0.09,14.1],[0.05,14.5],[0.17,14.9],[0.23,13.7],[0.29,14.4],[0.35,13.9],[-0.36,12.7],[-0.2,12.6],[-0.12,13.4],[0.03,12.6],[0.1,13.2],[0.21,12.7],[0.39,12.9],[-0.3,11.5],[-0.08,11.7],[0.12,11.3],[0.3,11.8],[-0.33,10.3],[0.22,10.2],[0.05,10.9],[-0.17,23.6],[0.01,24.0],[0.27,23.9],[-0.09,25.6],[0.33,25.0],[-0.33,24.0],[0.14,24.4]];
const vioH_Low = [[17.89,0.13],[16.79,0.143],[16.01,0.149],[15.48,0.257],[14.7,0.37],[14.18,0.43],[13.39,0.453],[12.61,0.42],[11.57,0.318],[10.78,0.205],[10.0,0.103],[9.22,0.06],[8.43,0.045],[7.65,0.051],[6.61,0.028],[5.56,0.004],[4.52,0.034],[3.21,0.058]];
const vioH_High = [[26.66,0.02],[25.67,0.041],[24.88,0.087],[23.84,0.164],[22.79,0.231],[21.75,0.277],[20.71,0.295],[19.66,0.287],[18.36,0.265],[16.79,0.205],[15.22,0.144],[13.13,0.082],[11.04,0.041],[9.22,0.01],[8.83,0.005]];
const bracketsH = [["Low Grade","High Grade",27.82,"1.7e−09"]];
const testH = "Wilcoxon, p = 1.7e−09";

// ---------- Panel I: TCGA, progression ----------
const catsI = ["No progression","Progression"];
const ticksI = [10,20];
const ptsI_No = [[-0.39,24.3],[-0.35,23.9],[-0.32,23.6],[-0.23,24.0],[-0.13,23.4],[-0.08,23.6],[0.24,24.6],[0.27,24.2],[0.3,24.1],[0.21,23.3],[0.12,23.6],[0.03,23.4],[-0.26,23.1],[-0.3,23.2],[0.36,23.3],[-0.18,24.5],[0.07,24.1],[-0.4,22.8],[-0.33,22.4],[-0.28,22.9],[-0.22,22.2],[-0.16,22.6],[-0.11,22.0],[-0.04,22.5],[0.02,22.1],[0.08,22.7],[0.15,22.3],[0.2,22.8],[0.26,22.2],[0.31,22.6],[0.36,22.0],[0.4,22.3],[-0.37,21.8],[-0.27,21.6],[-0.19,21.9],[-0.07,21.7],[0.05,21.6],[0.13,21.9],[0.24,21.7],[0.33,21.6],[-0.41,21.2],[-0.35,20.8],[-0.29,21.3],[-0.24,20.5],[-0.17,21.1],[-0.12,20.7],[-0.06,21.2],[0.0,20.6],[0.06,21.0],[0.11,20.4],[0.17,20.9],[0.22,20.3],[0.28,20.8],[0.34,21.1],[0.39,20.6],[-0.38,20.2],[-0.3,20.1],[-0.2,20.3],[-0.09,20.2],[0.03,20.1],[0.14,20.6],[0.31,20.2],[0.42,20.0],[-0.4,19.8],[-0.36,19.3],[-0.31,19.7],[-0.25,19.1],[-0.19,19.6],[-0.14,18.9],[-0.08,19.5],[-0.02,19.0],[0.04,19.6],[0.1,19.2],[0.16,19.8],[0.21,19.0],[0.27,19.5],[0.33,18.9],[0.38,19.4],[0.41,18.9],[-0.38,18.6],[-0.28,18.7],[-0.16,18.6],[-0.05,18.7],[0.07,18.6],[0.19,18.5],[0.3,18.6],[-0.41,18.3],[-0.34,17.9],[-0.29,18.2],[-0.23,17.5],[-0.17,18.1],[-0.11,17.4],[-0.05,17.9],[0.01,17.2],[0.07,17.8],[0.13,17.3],[0.18,18.2],[0.24,17.6],[0.29,18.0],[0.35,17.4],[0.4,17.9],[-0.37,17.2],[-0.21,17.1],[-0.08,17.0],[0.1,17.0],[0.27,17.1],[-0.4,16.8],[-0.35,16.2],[-0.3,16.6],[-0.25,15.9],[-0.18,16.5],[-0.12,15.7],[-0.06,16.3],[0.0,15.8],[0.06,16.6],[0.12,16.0],[0.17,16.7],[0.22,15.6],[0.28,16.3],[0.34,15.8],[0.39,16.4],[-0.33,15.6],[0.04,15.5],[0.42,15.9],[-0.42,15.0],[-0.36,14.6],[-0.3,15.2],[-0.24,14.3],[-0.17,14.9],[-0.11,14.4],[-0.04,15.1],[0.02,14.5],[0.08,14.9],[0.14,14.2],[0.2,14.8],[0.26,14.3],[0.32,15.0],[0.38,14.5],[-0.28,14.0],[0.11,14.0],[-0.38,13.8],[-0.34,13.2],[-0.28,12.9],[-0.22,13.6],[-0.15,12.6],[-0.08,13.3],[0.03,13.7],[0.1,12.8],[0.17,13.4],[0.24,12.5],[0.31,13.1],[0.37,12.7],[-0.39,12.3],[0.2,12.1],[-0.12,12.2],[0.4,13.5],[-0.4,11.8],[-0.32,11.6],[-0.26,11.1],[-0.2,10.9],[-0.14,10.5],[0.03,11.4],[0.16,11.9],[0.22,10.9],[0.28,11.2],[0.38,10.8],[-0.29,10.1],[0.39,9.5],[0.38,9.1],[0.1,8.8],[0.27,7.7],[0.02,3.2],[-0.37,22.2],[-0.25,22.5],[-0.14,23.0],[-0.01,22.9],[0.1,22.2],[0.18,22.0],[0.29,23.0],[0.38,21.5],[-0.33,21.0],[-0.22,21.2],[-0.03,21.0],[0.09,21.4],[0.2,21.3],[0.31,20.6],[-0.39,19.1],[-0.28,19.3],[-0.11,19.2],[0.01,19.3],[0.13,18.9],[0.24,19.2],[0.36,19.7],[-0.35,17.6],[-0.2,17.8],[-0.02,17.6],[0.15,17.7],[0.32,17.7],[-0.32,16.4],[-0.15,16.0],[0.09,16.3],[0.25,16.0],[-0.39,15.3],[-0.2,15.3],[0.05,15.2],[0.23,15.1],[0.35,15.3],[-0.33,14.3],[-0.05,14.2],[0.17,14.6],[-0.26,13.4],[0.07,13.1],[0.27,12.9],[-0.36,12.6],[-0.06,11.9],[0.12,11.6],[0.33,12.1]];
const ptsI_Prog = [[0.27,26.6],[0.38,26.3],[0.34,25.7],[-0.36,25.1],[-0.17,25.2],[0.13,24.9],[-0.33,24.5],[-0.05,24.3],[0.22,24.2],[-0.38,23.6],[-0.3,23.4],[-0.22,23.2],[-0.12,23.6],[-0.05,23.1],[0.0,23.4],[0.05,22.9],[0.1,23.5],[0.17,23.0],[0.25,23.3],[0.32,22.8],[0.37,23.5],[-0.4,22.9],[-0.27,22.7],[0.08,22.6],[0.4,22.6],[-0.16,22.5],[-0.39,22.2],[-0.33,21.8],[-0.25,22.3],[-0.18,21.5],[-0.1,22.0],[-0.03,21.6],[0.04,22.2],[0.11,21.4],[0.18,21.9],[0.24,21.3],[0.29,22.1],[0.35,21.6],[0.4,21.9],[-0.36,21.2],[-0.2,21.1],[0.01,21.1],[0.16,21.2],[0.33,21.0],[-0.41,20.8],[-0.35,20.3],[-0.28,20.7],[-0.22,19.9],[-0.15,20.5],[-0.09,19.8],[-0.02,20.6],[0.05,20.1],[0.12,20.8],[0.18,19.7],[0.24,20.4],[0.3,19.9],[0.36,20.7],[0.41,20.1],[-0.38,19.6],[-0.06,19.5],[0.2,19.5],[0.39,19.6],[-0.4,19.2],[-0.32,18.7],[-0.26,19.3],[-0.19,18.4],[-0.12,19.0],[-0.05,18.3],[0.02,18.9],[0.09,18.2],[0.15,19.2],[0.22,18.6],[0.28,19.1],[0.34,18.3],[0.4,18.8],[-0.36,18.1],[-0.09,18.1],[0.26,18.0],[-0.39,17.7],[-0.3,17.3],[-0.23,17.8],[-0.16,17.1],[-0.08,17.6],[-0.01,16.9],[0.07,17.5],[0.13,16.8],[0.2,17.7],[0.27,17.0],[0.33,17.5],[0.39,16.7],[-0.35,16.6],[0.0,17.8],[-0.37,16.2],[-0.29,15.6],[-0.21,16.1],[-0.13,15.3],[-0.05,15.9],[0.03,15.4],[0.1,16.2],[0.17,15.5],[0.23,16.0],[0.3,15.2],[0.36,15.8],[-0.25,15.1],[0.07,15.0],[-0.37,14.9],[-0.27,14.5],[-0.18,14.9],[-0.09,14.3],[-0.02,14.8],[0.08,14.1],[0.15,14.6],[0.24,14.2],[0.33,14.7],[-0.25,13.7],[0.03,13.8],[0.29,13.9],[-0.25,13.2],[-0.24,12.9],[-0.1,12.1],[0.0,12.4],[0.04,13.5],[0.17,13.1],[0.26,12.2],[0.36,12.6],[-0.2,11.6],[-0.19,10.8],[-0.07,11.4],[0.18,10.0],[0.1,11.2],[-0.35,23.9],[-0.19,23.8],[0.03,23.9],[0.2,23.7],[0.3,24.0],[-0.34,22.4],[-0.2,22.9],[-0.07,22.4],[0.13,22.7],[0.22,22.1],[0.36,22.3],[-0.29,21.4],[-0.13,21.4],[0.07,21.7],[0.27,21.7],[-0.38,20.3],[-0.25,20.2],[-0.12,20.3],[0.08,20.4],[0.15,20.0],[0.33,20.3],[-0.34,19.3],[-0.22,18.9],[-0.02,19.2],[0.12,18.7],[0.31,18.8],[-0.29,18.3],[-0.15,18.6],[0.05,18.5],[0.19,18.3],[0.37,18.2],[-0.27,17.0],[-0.12,17.4],[0.1,17.0],[0.24,17.4],[-0.32,16.0],[-0.17,15.8],[0.0,16.3],[0.14,15.9],[0.28,16.4],[-0.22,14.4],[0.11,14.8],[0.27,14.6],[-0.12,13.4],[0.14,13.6],[0.2,12.4],[-0.28,12.8]];
const vioI_No = [[24.49,0.087],[23.58,0.169],[22.53,0.276],[21.49,0.332],[20.44,0.363],[19.4,0.363],[18.36,0.353],[17.05,0.322],[15.74,0.286],[14.44,0.235],[13.13,0.169],[11.83,0.102],[10.52,0.056],[9.22,0.022],[7.91,0.01],[3.21,0.01]];
const vioI_Prog = [[26.66,0.041],[25.4,0.072],[24.62,0.118],[23.58,0.23],[22.53,0.348],[21.49,0.421],[20.44,0.454],[19.4,0.431],[18.36,0.378],[16.79,0.286],[15.22,0.184],[13.66,0.107],[12.61,0.082],[11.57,0.061],[10.52,0.043],[10.0,0.034]];
const bracketsI = [["No progression","Progression",27.82,"0.00028"]];
const testI = "Wilcoxon, p = 0.00028";

// ---------- rendering ----------
const SERIF = "'Liberation Serif','Times New Roman',Times,serif";
const SANS = "'Liberation Sans',Arial,Helvetica,sans-serif";
const C = {green:"#4DAF4A", blue:"#377EB8", red:"#E41A1C", purple:"#984EA3", orange:"#FF7F00"};

const svg = d3.select("body").append("svg").attr("width",1357).attr("height",1378);
svg.append("rect").attr("width",1357).attr("height",1378).attr("fill","#fff");
svg.append("rect").attr("x",9.5).attr("y",8.5).attr("width",1344).attr("height",1400)
  .attr("fill","none").attr("stroke","#666").attr("stroke-width",1.3);

function drawPanel(p){
  const g = svg.append("g");
  const b = p.box;
  const x = d3.scalePoint().domain(p.cats).range([b.x0,b.x1]).padding(0.6);
  const step = x.step();
  const y = d3.scaleLinear().domain(p.yDomain).range([b.y1,b.y0]);

  g.append("rect").attr("x",b.x0).attr("y",b.y0).attr("width",b.x1-b.x0).attr("height",b.y1-b.y0)
    .attr("fill","none").attr("stroke","#8c8c8c").attr("stroke-width",1);

  // jittered points
  p.groups.forEach((grp,i)=>{
    const cx = x(p.cats[i]);
    g.append("g").selectAll("circle").data(grp.pts).join("circle")
      .attr("cx",d=>cx+d[0]*step).attr("cy",d=>y(d[1])).attr("r",3.3)
      .attr("fill",grp.color).attr("fill-opacity",grp.alpha||0.55);
  });

  // violin outlines
  p.groups.forEach((grp,i)=>{
    const cx = x(p.cats[i]);
    const area = d3.area().curve(d3.curveCatmullRom.alpha(0.5))
      .y(d=>y(d[0])).x0(d=>cx-d[1]*step).x1(d=>cx+d[1]*step);
    g.append("path").attr("d",area(grp.vio)).attr("fill","none")
      .attr("stroke",p.vioStroke).attr("stroke-width",3.2).attr("stroke-linejoin","round");
  });

  // axes
  const ya = d3.axisLeft(y).tickValues(p.ticks).tickSize(5).tickPadding(2).tickFormat(p.fmt);
  const yg = g.append("g").attr("transform",`translate(${b.x0},0)`).call(ya);
  yg.select(".domain").remove();
  yg.selectAll("line").attr("stroke","#555");
  yg.selectAll("text").attr("font-family",SERIF).attr("font-size",16.5).attr("fill","#4d4d4d");

  const xa = d3.axisBottom(x).tickSize(5).tickPadding(0);
  const xg = g.append("g").attr("transform",`translate(0,${b.y1})`).call(xa);
  xg.select(".domain").remove();
  xg.selectAll("line").attr("stroke","#555");
  xg.selectAll("text").attr("font-family",SERIF).attr("font-size",16.5).attr("fill","#222");

  // comparison brackets
  p.brackets.forEach(br=>{
    const xa0 = x(br[0]), xb0 = x(br[1]), yy = y(br[2]);
    g.append("path").attr("d",`M${xa0},${yy+6}V${yy}H${xb0}V${yy+6}`)
      .attr("fill","none").attr("stroke",p.bracketStroke).attr("stroke-width",1);
    g.append("text").attr("x",(xa0+xb0)/2).attr("y",yy-3.5).attr("text-anchor","middle")
      .attr("font-family",SANS).attr("font-size",12.7).attr("fill","#222").text(br[3]);
  });

  // global test label
  g.append("text").attr("x",p.test.x).attr("y",y(p.test.at)+4.5)
    .attr("font-family",SANS).attr("font-size",12.7).attr("fill","#222").text(p.test.text);

  // title, panel letter, y label
  g.append("text").attr("x",(b.x0+b.x1)/2).attr("y",p.titleY).attr("text-anchor","middle")
    .attr("font-family",SERIF).attr("font-weight","bold").attr("font-size",17.3).attr("fill","#222").text(p.title);
  g.append("text").attr("x",p.letter[1]).attr("y",p.letter[2])
    .attr("font-family",SANS).attr("font-weight","bold").attr("font-size",25).attr("fill","#111").text(p.letter[0]);
  g.append("text").attr("transform",`translate(${p.ylabX},${(b.y0+b.y1)/2}) rotate(-90)`)
    .attr("text-anchor","middle").attr("dy","0.35em")
    .attr("font-family",SERIF).attr("font-size",16.5).attr("fill","#111").text("Risk score");
}

const fInt = d3.format("d"), f1 = d3.format(".1f");
const rowTop = {y0:47.3,y1:392.7}, rowMid = {y0:465.7,y1:811}, rowBot = {y0:925.7,y1:1271};

drawPanel({title:"GEO32894 cohort", letter:["A",46.5,46.7], titleY:37.5, ylabX:50,
  box:{x0:84.3,x1:441.7,...rowTop}, cats:catsA, yDomain:[-4.43,17.6], ticks:ticksA, fmt:fInt,
  vioStroke:"#555", bracketStroke:"#666",
  groups:[{pts:ptsA_Ta,vio:vioA_Ta,color:C.purple},{pts:ptsA_T1,vio:vioA_T1,color:C.green},
          {pts:ptsA_T2,vio:vioA_T2,color:C.blue},{pts:ptsA_T34,vio:vioA_T34,color:C.red}],
  brackets:bracketsA, test:{text:testA,x:103.3,at:5}});

drawPanel({title:"GSE32894 cohort", letter:["B",475,46.7], titleY:37.5, ylabX:489,
  box:{x0:523.3,x1:879.3,...rowTop}, cats:catsB, yDomain:[-4.24,14.3], ticks:ticksB, fmt:fInt,
  vioStroke:"#262626", bracketStroke:"#444",
  groups:[{pts:ptsB_G1,vio:vioB_G1,color:C.green},{pts:ptsB_G2,vio:vioB_G2,color:C.blue},
          {pts:ptsB_G3,vio:vioB_G3,color:C.red}],
  brackets:bracketsB, test:{text:testB,x:558.3,at:5}});

drawPanel({title:"GSE32894 cohort", letter:["C",910,46.7], titleY:37.5, ylabX:928.3,
  box:{x0:962.3,x1:1319.3,...rowTop}, cats:catsC, yDomain:[-4.61,22.5], ticks:ticksC, fmt:fInt,
  vioStroke:"#262626", bracketStroke:"#444",
  groups:[{pts:ptsC_1a,vio:vioC_1a,color:C.orange},{pts:ptsC_1b,vio:vioC_1b,color:C.purple},
          {pts:ptsC_2a,vio:vioC_2a,color:C.green},{pts:ptsC_2b,vio:vioC_2b,color:C.blue},
          {pts:ptsC_2b2,vio:vioC_2b2,color:C.red}],
  brackets:bracketsC, test:{text:testC,x:971.7,at:5}});

drawPanel({title:"GSE13507 cohort", letter:["D",46.5,456.7], titleY:456.5, ylabX:50,
  box:{x0:84.3,x1:441.7,...rowMid}, cats:catsD, yDomain:[12.35,15.9], ticks:ticksD, fmt:fInt,
  vioStroke:"#262626", bracketStroke:"#444",
  groups:[{pts:ptsD_Ta,vio:vioD_Ta,color:C.orange},{pts:ptsD_T1,vio:vioD_T1,color:C.purple},
          {pts:ptsD_T2,vio:vioD_T2,color:C.green},{pts:ptsD_T3,vio:vioD_T3,color:C.blue},
          {pts:ptsD_T4,vio:vioD_T4,color:C.red}],
  brackets:bracketsD, test:{text:testD,x:93.3,at:12.5}});

drawPanel({title:"GSE13507 cohort", letter:["E",475,456.7], titleY:456.5, ylabX:489,
  box:{x0:535.7,x1:880.7,...rowMid}, cats:catsE, yDomain:[12.4,14.666], ticks:ticksE, fmt:f1,
  vioStroke:"#262626", bracketStroke:"#444",
  groups:[{pts:ptsE_Low,vio:vioE_Low,color:C.blue},{pts:ptsE_High,vio:vioE_High,color:C.red}],
  brackets:bracketsE, test:{text:testE,x:604,at:12.5}});

drawPanel({title:"GSE13507 cohort", letter:["F",910,456.7], titleY:456.5, ylabX:928,
  box:{x0:975,x1:1319.3,...rowMid}, cats:catsF, yDomain:[12.405,14.584], ticks:ticksF, fmt:f1,
  vioStroke:"#262626", bracketStroke:"#444",
  groups:[{pts:ptsF_No,vio:vioF_No,color:C.blue},{pts:ptsF_Prog,vio:vioF_Prog,color:C.red}],
  brackets:bracketsF, test:{text:testF,x:1043.7,at:12.5}});

drawPanel({title:"TCGA cohort", letter:["G",46.5,921], titleY:916.5, ylabX:50,
  box:{x0:84.3,x1:441.7,...rowBot}, cats:catsG, yDomain:[1.57,35.04], ticks:ticksG, fmt:fInt,
  vioStroke:"#262626", bracketStroke:"#444",
  groups:[{pts:ptsG_I,vio:vioG_I,color:C.purple,alpha:0.3},{pts:ptsG_II,vio:vioG_II,color:C.green},
          {pts:ptsG_III,vio:vioG_III,color:C.blue},{pts:ptsG_IV,vio:vioG_IV,color:C.red}],
  brackets:bracketsG, test:{text:testG,x:105,at:5}});

drawPanel({title:"TCGA cohort", letter:["H",475,921], titleY:916.5, ylabX:496.7,
  box:{x0:530.7,x1:887.7,...rowBot}, cats:catsH, yDomain:[1.96,29.0], ticks:ticksH, fmt:fInt,
  vioStroke:"#262626", bracketStroke:"#444",
  groups:[{pts:ptsH_Low,vio:vioH_Low,color:C.blue},{pts:ptsH_High,vio:vioH_High,color:C.red}],
  brackets:bracketsH, test:{text:testH,x:683.3,at:5.4}});

drawPanel({title:"TCGA cohort", letter:["I",909,921], titleY:916.5, ylabX:928.3,
  box:{x0:962.3,x1:1319.3,...rowBot}, cats:catsI, yDomain:[1.96,29.0], ticks:ticksI, fmt:fInt,
  vioStroke:"#262626", bracketStroke:"#444",
  groups:[{pts:ptsI_No,vio:vioI_No,color:C.blue},{pts:ptsI_Prog,vio:vioI_Prog,color:C.red}],
  brackets:bracketsI, test:{text:testI,x:1115.7,at:5}});

// figure caption
const NARROW = "'Liberation Sans Narrow','Arial Narrow','Liberation Sans',Arial,sans-serif";
const cap1 = svg.append("text").attr("x",25).attr("y",1342).attr("font-family",NARROW)
  .attr("font-size",17.5).attr("fill","#222").attr("textLength",1252).attr("lengthAdjust","spacingAndGlyphs");
cap1.append("tspan").attr("font-weight","bold").text("FIGURE 5 |");
cap1.append("tspan").text(" Clinicopathological significance of the prognostic signature of bladder cancer in the training set (GSE32894) and test sets (GSE13507 and TCGA). ");
cap1.append("tspan").attr("font-style","italic").text("p");

const cap2 = svg.append("text").attr("x",25).attr("y",1367).attr("font-family",NARROW)
  .attr("font-size",17.5).attr("fill","#222").attr("textLength",1113).attr("lengthAdjust","spacingAndGlyphs");
[["values were statistically significant at T-stage ",""],["(A, D)","b"],[", grade ",""],["(B, E, H)","b"],
 [", molecular sub",""],["type","i"],[" ",""],["(C)","b"],[", pathological stage ",""],["(G)","b"],
 [", and progression ",""],["(F, I)","b"],[".",""]].forEach(([t,s])=>{
  const ts = cap2.append("tspan").text(t);
  if(s==="b") ts.attr("font-weight","bold");
  if(s==="i") ts.attr("font-style","italic");
});
</script>
</body></html>
